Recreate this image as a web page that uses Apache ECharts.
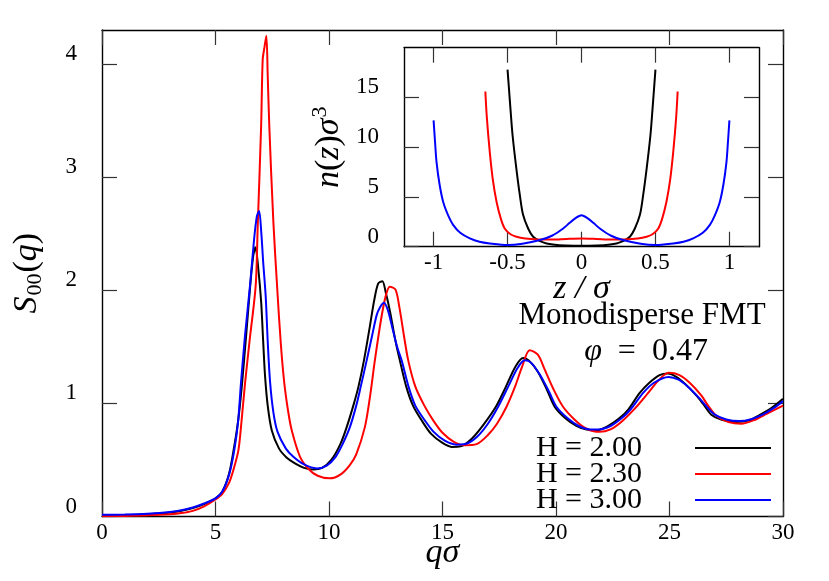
<!DOCTYPE html>
<html>
<head>
<meta charset="utf-8">
<script src="https://cdn.jsdelivr.net/npm/echarts@6/dist/echarts.min.js"></script>
<style>html,body{margin:0;padding:0;background:#fff}#c{width:829px;height:581px}</style>
</head>
<body>
<div id="c"></div>
<script>
// ---- main plot: S00(q) vs q*sigma ----
const seriesNames = ['H = 2.00', 'H = 2.30', 'H = 3.00'];
const qH200 = [0,1,2,3,3.5,4,4.5,5,5.3,5.6,5.8,6.0,6.17,6.35,6.53,6.66,6.76,6.88,7.01,7.1,7.18,7.3,7.48,7.8,8.14,8.5,8.9,9.31,9.7,10.1,10.5,10.78,11.1,11.3,11.54,11.8,12.0,12.17,12.35,12.5,12.7,12.9,13.12,13.4,13.7,14.08,14.5,15.0,15.4,15.8,16.3,16.8,17.35,17.8,18.2,18.55,18.8,19.2,19.6,19.94,20.4,20.9,21.3,21.7,22.2,22.8,23.2,23.68,24.1,24.56,24.93,25.3,25.7,26.18,26.5,26.84,27.3,27.94,28.5,29.0,29.5,30];
const sH200 = [0.01,0.012,0.02,0.035,0.05,0.075,0.11,0.16,0.22,0.38,0.59,0.85,1.175,1.6,2.04,2.3,2.38,2.2,1.9,1.55,1.25,0.98,0.76,0.6,0.52,0.47,0.43,0.415,0.43,0.5,0.64,0.79,1.0,1.15,1.38,1.68,1.92,2.06,2.08,1.98,1.8,1.58,1.38,1.15,0.98,0.85,0.73,0.65,0.615,0.62,0.69,0.81,0.97,1.15,1.32,1.40,1.38,1.28,1.12,0.97,0.87,0.8,0.77,0.76,0.79,0.87,0.95,1.09,1.18,1.25,1.264,1.235,1.17,1.07,0.99,0.9,0.855,0.835,0.85,0.9,0.96,1.04];
const qH230 = [0,1,2,3,3.5,4,4.5,5,5.3,5.6,5.8,6.01,6.15,6.3,6.5,6.77,6.86,7.01,7.08,7.16,7.24,7.3,7.37,7.55,7.73,7.88,8.03,8.2,8.36,8.72,9.1,9.5,10.04,10.5,10.9,11.2,11.58,11.8,12.02,12.3,12.5,12.68,12.93,13.1,13.3,13.49,13.8,14.2,14.59,15.0,15.5,15.98,16.5,17.0,17.4,17.82,18.2,18.5,18.84,19.2,19.5,19.9,20.31,20.8,21.3,21.92,22.4,22.9,23.5,24.05,24.5,24.96,25.44,25.9,26.4,26.7,27.06,27.6,28.16,28.7,29.3,30];
const sH230 = [0.003,0.005,0.01,0.02,0.03,0.05,0.09,0.15,0.2,0.3,0.42,0.587,0.85,1.175,1.55,2.04,2.57,3.45,4.04,4.15,4.25,3.9,3.45,2.6,1.98,1.52,1.18,0.93,0.76,0.53,0.42,0.36,0.337,0.37,0.45,0.55,0.79,1.05,1.38,1.75,1.95,2.03,2.005,1.85,1.6,1.38,1.15,0.98,0.85,0.74,0.66,0.63,0.64,0.72,0.82,0.97,1.15,1.32,1.47,1.43,1.3,1.12,0.97,0.86,0.78,0.748,0.77,0.84,0.96,1.09,1.2,1.27,1.25,1.18,1.07,0.98,0.89,0.835,0.82,0.85,0.91,0.98];
const qH300 = [0,1,2,3,3.5,4,4.5,5,5.3,5.6,5.83,6.0,6.12,6.3,6.52,6.7,6.82,6.92,7.02,7.1,7.21,7.3,7.4,7.55,7.73,8.1,8.43,8.9,9.46,9.9,10.3,10.6,10.92,11.2,11.4,11.66,11.9,12.1,12.25,12.42,12.6,12.8,13.0,13.2,13.5,13.8,14.22,14.6,15.1,15.6,16.0,16.5,17.0,17.45,17.9,18.3,18.62,18.9,19.3,19.7,20.02,20.5,21.0,21.5,21.9,22.4,22.9,23.3,23.83,24.3,24.96,25.4,25.8,26.25,26.6,27.0,27.5,28.08,28.6,29.1,29.6,30];
const sH300 = [0.015,0.018,0.025,0.04,0.055,0.08,0.115,0.16,0.22,0.37,0.59,0.85,1.175,1.6,2.04,2.45,2.65,2.70,2.5,2.25,1.95,1.55,1.2,0.92,0.75,0.6,0.528,0.46,0.425,0.45,0.53,0.64,0.79,0.98,1.15,1.38,1.6,1.78,1.85,1.89,1.82,1.66,1.5,1.38,1.15,0.98,0.85,0.75,0.67,0.635,0.64,0.7,0.82,0.97,1.15,1.31,1.38,1.36,1.25,1.1,0.97,0.87,0.8,0.77,0.77,0.8,0.87,0.95,1.09,1.18,1.234,1.21,1.15,1.06,0.98,0.9,0.857,0.843,0.86,0.9,0.96,1.02];

// ---- inset: n(z) sigma^3 vs z/sigma ----
const zH200 = [-0.5,-0.49,-0.48,-0.466,-0.44,-0.417,-0.395,-0.36,-0.327,-0.28,-0.236,-0.15,-0.05,0,0.05,0.15,0.236,0.28,0.327,0.36,0.395,0.417,0.44,0.466,0.48,0.49,0.5];
const nH200 = [17.8,15.8,13.8,11.2,7.8,5.2,3.2,1.8,1.0,0.55,0.33,0.15,0.1,0.1,0.1,0.15,0.33,0.55,1.0,1.8,3.2,5.2,7.8,11.2,13.8,15.8,17.8];
const zH230 = [-0.65,-0.64,-0.62,-0.6,-0.574,-0.545,-0.518,-0.48,-0.44,-0.38,-0.3,-0.2,-0.1,0,0.1,0.2,0.3,0.38,0.44,0.48,0.518,0.545,0.574,0.6,0.62,0.64,0.65];
const nH230 = [15.6,13.0,9.5,6.8,4.5,2.8,1.8,1.25,1.0,0.82,0.73,0.72,0.78,0.82,0.78,0.72,0.73,0.82,1.0,1.25,1.8,2.8,4.5,6.8,9.5,13.0,15.6];
const zH300 = [-1.0,-0.99,-0.98,-0.96,-0.935,-0.9,-0.868,-0.82,-0.755,-0.69,-0.62,-0.5,-0.4,-0.28,-0.2,-0.124,-0.08,-0.045,0,0.045,0.08,0.124,0.2,0.28,0.4,0.5,0.62,0.69,0.755,0.82,0.868,0.9,0.935,0.96,0.98,0.99,1.0];
const nH300 = [12.7,10.5,8.5,6.3,4.5,3.1,2.2,1.4,0.84,0.5,0.33,0.17,0.3,0.67,1.1,1.83,2.4,2.83,3.17,2.83,2.4,1.83,1.1,0.67,0.3,0.17,0.33,0.5,0.84,1.4,2.2,3.1,4.5,6.3,8.5,10.5,12.7];

// tick values
const mainXTicks = [0,5,10,15,20,25,30];
const mainYTicks = [0,1,2,3,4];
const insetXTicks = [-1,-0.5,0,0.5,1];
const insetYTicks = [0,5,10,15];
const colors = ['#000000', '#ff0000', '#0000ff'];

const FONT = 'Liberation Serif';
const pairs = (a, b) => a.map((v, i) => [v, b[i]]);

const axisLineStyle = { color: '#000', width: 1.4 };
function mkX(grid, pos, min, max, interval, ticks, showLabel, extra) {
  return Object.assign({
    type: 'value', gridIndex: grid, position: pos, min: min, max: max, interval: interval,
    axisLine: { show: true, onZero: false, lineStyle: axisLineStyle },
    axisTick: { show: true, inside: true, length: 15, lineStyle: { color: '#333', width: 1.2 }, customValues: ticks },
    axisLabel: { show: showLabel, customValues: ticks, color: '#000', fontFamily: FONT, fontSize: 23, margin: 5 },
    splitLine: { show: false }
  }, extra || {});
}
function mkY(grid, pos, min, max, ticks, showLabel, extra) {
  return Object.assign({
    type: 'value', gridIndex: grid, position: pos, min: min, max: max,
    axisLine: { show: true, onZero: false, lineStyle: axisLineStyle },
    axisTick: { show: true, inside: true, length: 15, lineStyle: { color: '#333', width: 1.2 }, customValues: ticks },
    axisLabel: { show: showLabel, customValues: ticks, color: '#000', fontFamily: FONT, fontSize: 23, margin: 25, verticalAlign: 'bottom', lineHeight: 20 },
    splitLine: { show: false }
  }, extra || {});
}

const chart = echarts.init(document.getElementById('c'), null, { renderer: 'canvas' });
const lineBase = { type: 'line', showSymbol: false, symbol: 'none', smooth: 0.3, lineStyle: { width: 2 } };

const option = {
  backgroundColor: '#fff',
  animation: false,
  color: colors,
  grid: [
    { left: 102, top: 30, width: 681, height: 486.5, outerBoundsMode: 'none', containLabel: false },
    { left: 404, top: 47.7, width: 355, height: 199, show: true, backgroundColor: '#fff', borderWidth: 0, outerBoundsMode: 'none', containLabel: false }
  ],
  xAxis: [
    mkX(0, 'bottom', 0, 30, 5, mainXTicks, true, {
      name: 'qσ', nameLocation: 'middle', nameGap: 20, nameMoveOverlap: false,
      nameTextStyle: { fontFamily: FONT, fontSize: 34, fontStyle: 'italic', color: '#000', verticalAlign: 'top' }
    }),
    mkX(0, 'top', 0, 30, 5, mainXTicks, false),
    mkX(1, 'bottom', -1.2, 1.2, 0.5, insetXTicks, true, {
      name: 'z / σ', nameLocation: 'middle', nameGap: 25, nameMoveOverlap: false,
      nameTextStyle: { fontFamily: FONT, fontSize: 34, fontStyle: 'italic', color: '#000', verticalAlign: 'top' }
    }),
    mkX(1, 'top', -1.2, 1.2, 0.5, insetXTicks, false)
  ],
  yAxis: [
    mkY(0, 'left', 0, 4.3, mainYTicks, true, {
      name: '{i|S}{sub|00}{n|(}{i|q}{n|)}', nameLocation: 'middle', nameGap: 56, nameRotate: 90,
      nameTextStyle: {
        color: '#000', fontFamily: FONT, fontSize: 34,
        rich: {
          i: { fontFamily: FONT, fontSize: 34, fontStyle: 'italic', color: '#000' },
          n: { fontFamily: FONT, fontSize: 34, color: '#000' },
          sub: { fontFamily: FONT, fontSize: 22, color: '#000', padding: [16, 1, 0, 1] }
        }
      }
    }),
    mkY(0, 'right', 0, 4.3, mainYTicks, false),
    mkY(1, 'left', 0, 20, insetYTicks, true, {
      name: '{i|n}{n|(}{i|z}{n|)}{i|σ}{sup|3}', nameLocation: 'middle', nameGap: 55, nameRotate: 90,
      nameTextStyle: {
        color: '#000', fontFamily: FONT, fontSize: 34,
        rich: {
          i: { fontFamily: FONT, fontSize: 34, fontStyle: 'italic', color: '#000' },
          n: { fontFamily: FONT, fontSize: 34, color: '#000' },
          sup: { fontFamily: FONT, fontSize: 22, color: '#000', padding: [0, 0, 18, 1] }
        }
      }
    }),
    mkY(1, 'right', 0, 20, insetYTicks, false)
  ],
  legend: {
    orient: 'vertical', right: 53, top: 428, align: 'right',
    itemWidth: 76, itemHeight: 2, itemGap: -4, icon: 'rect',
    data: seriesNames,
    textStyle: { fontFamily: FONT, fontSize: 30, color: '#000', padding: [0, 48, 0, 0] }
  },
  graphic: [
    { type: 'text', style: { text: 'Monodisperse FMT', x: 642, y: 316, align: 'center', verticalAlign: 'middle', fontFamily: FONT, fontSize: 31, fill: '#000' } },
    { type: 'text', style: { text: '{i|φ}  =  0.47', x: 646, y: 352, align: 'center', verticalAlign: 'middle', fontFamily: FONT, fontSize: 32, fill: '#000',
      rich: { i: { fontFamily: FONT, fontSize: 32, fontStyle: 'italic', fill: '#000' } } } }
  ],
  series: [
    Object.assign({}, lineBase, { name: seriesNames[0], xAxisIndex: 0, yAxisIndex: 0, data: pairs(qH200, sH200), itemStyle: { color: colors[0] }, lineStyle: { width: 2, color: colors[0] } }),
    Object.assign({}, lineBase, { name: seriesNames[1], xAxisIndex: 0, yAxisIndex: 0, data: pairs(qH230, sH230), itemStyle: { color: colors[1] }, lineStyle: { width: 2, color: colors[1] } }),
    Object.assign({}, lineBase, { name: seriesNames[2], xAxisIndex: 0, yAxisIndex: 0, data: pairs(qH300, sH300), itemStyle: { color: colors[2] }, lineStyle: { width: 2, color: colors[2] } }),
    Object.assign({}, lineBase, { name: seriesNames[0], xAxisIndex: 2, yAxisIndex: 2, data: pairs(zH200, nH200), itemStyle: { color: colors[0] }, lineStyle: { width: 2, color: colors[0] } }),
    Object.assign({}, lineBase, { name: seriesNames[1], xAxisIndex: 2, yAxisIndex: 2, data: pairs(zH230, nH230), itemStyle: { color: colors[1] }, lineStyle: { width: 2, color: colors[1] } }),
    Object.assign({}, lineBase, { name: seriesNames[2], xAxisIndex: 2, yAxisIndex: 2, data: pairs(zH300, nH300), itemStyle: { color: colors[2] }, lineStyle: { width: 2, color: colors[2] } })
  ]
};
chart.setOption(option);
</script>
</body>
</html>
